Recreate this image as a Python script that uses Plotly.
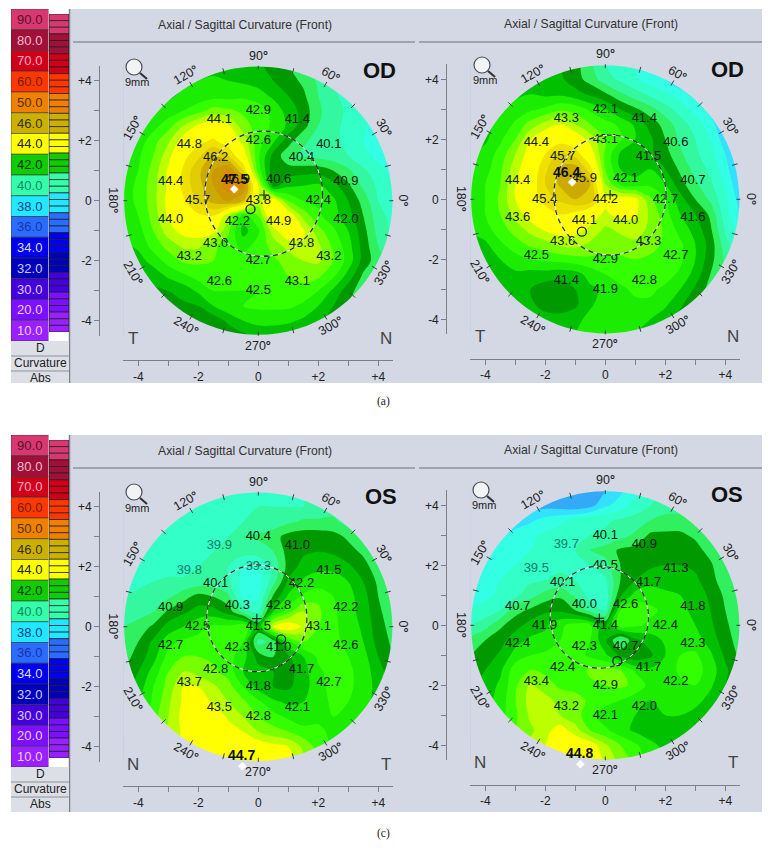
import math
import plotly.graph_objects as go

W, H = 772, 859
PANEL = "#d3d8e4"

# The outer grid lines sit just inside the plot square, so the mask hides the contour's edge.
grid_x = [-4.48,-4,-3.5,-3,-2.5,-2,-1.5,-1,-.5,0,.5,1,1.5,2,2.5,3,3.5,4,4.48]
grid_y = [4.48,4,3.5,3,2.5,2,1.5,1,.5,0,-.5,-1,-1.5,-2,-2.5,-3,-3.5,-4,-4.48]

map_a = [
[41.5,41.5,41.5,41.5,41.5,41.6,41.8,41.8,41.8,41.6,41.3,41.0,40.4,40.0,39.8,39.5,39.3,39.1,39.0],
[41.7,41.7,41.7,41.8,41.9,42.0,42.1,42.0,41.9,41.8,41.5,41.2,40.9,40.4,39.9,39.7,39.4,39.2,39.0],
[41.8,41.8,41.8,41.9,42.1,42.2,42.3,42.3,42.4,42.2,41.9,41.5,41.1,40.5,40.1,39.8,39.6,39.3,39.1],
[41.9,41.9,42.0,42.2,42.5,42.8,43.2,43.1,42.9,42.8,42.3,41.8,41.3,40.6,40.2,39.9,39.6,39.3,39.1],
[42.0,42.0,42.3,42.8,43.5,44.1,44.4,44.1,43.2,42.8,42.4,41.9,41.2,40.5,40.1,39.9,39.6,39.2,39.1],
[42.1,42.2,42.8,43.4,44.3,44.8,45.1,44.6,43.8,42.7,42.1,41.2,40.6,40.3,40.1,39.9,39.5,39.2,39.1],
[42.2,42.4,43.0,43.8,44.8,45.4,46.1,45.5,44.4,42.6,41.3,40.7,40.4,40.3,40.2,40.0,39.7,39.3,39.2],
[42.3,42.5,43.2,44.1,45.1,45.9,46.5,47.1,45.5,42.8,41.1,41.2,41.3,41.3,41.0,40.6,40.1,39.7,39.3],
[42.3,42.6,43.3,44.1,45.2,45.8,46.5,47.3,47.0,44.0,41.3,41.9,42.0,42.1,41.7,41.1,40.4,39.9,39.5],
[42.3,42.6,43.3,44.2,44.9,45.6,46.2,46.6,46.0,43.8,44.5,43.0,42.5,42.4,42.1,41.5,40.8,40.0,39.6],
[42.2,42.5,43.2,44.1,44.6,44.9,45.0,43.6,42.3,43.0,44.8,44.5,43.3,42.6,42.2,41.7,41.0,40.2,39.8],
[42.1,42.3,43.0,43.8,44.2,44.4,44.2,43.1,41.8,42.4,43.8,44.5,44.1,43.2,42.6,42.0,41.2,40.3,39.9],
[41.9,42.1,42.7,43.2,43.6,43.6,43.1,42.8,42.3,42.7,43.2,43.7,43.9,43.6,42.9,42.2,41.3,40.5,40.0],
[41.7,41.8,42.2,42.7,43.1,43.1,43.0,42.8,42.7,42.7,42.9,43.2,43.5,43.6,43.0,42.3,41.3,40.7,40.2],
[41.5,41.5,41.7,42.1,42.4,42.7,42.7,42.6,42.6,42.6,42.8,43.0,43.2,43.1,42.6,41.8,40.9,40.5,40.3],
[41.4,41.4,41.4,41.5,41.7,42.1,42.5,42.5,42.5,42.5,42.6,42.8,42.8,42.5,41.9,41.2,40.7,40.5,40.4],
[41.3,41.3,41.3,41.3,41.4,41.5,42.0,42.4,42.5,42.6,42.6,42.6,42.4,42.0,41.5,41.0,40.7,40.5,40.4],
[41.2,41.2,41.2,41.2,41.2,41.2,41.2,41.6,42.0,42.2,42.2,42.1,41.9,41.6,41.3,41.0,40.7,40.5,40.4],
[41.2,41.2,41.2,41.2,41.2,41.1,41.1,41.2,41.4,41.6,41.6,41.6,41.4,41.2,41.0,40.9,40.7,40.5,40.4],
]
map_b = [
[41.6,41.6,41.6,41.6,41.7,41.7,41.5,41.2,40.6,40.0,39.8,39.5,39.2,38.9,38.6,38.3,38.0,38.0,38.0],
[41.8,41.8,41.8,41.8,41.8,41.7,41.6,41.2,40.8,40.2,39.9,39.6,39.2,39.0,38.6,38.4,38.1,38.0,38.0],
[41.9,41.9,41.9,41.9,42.0,41.9,41.9,41.7,41.4,41.1,40.6,40.2,39.9,39.6,39.2,38.8,38.3,38.0,38.0],
[41.9,41.9,42.0,42.2,42.4,42.6,42.9,42.8,42.4,42.0,41.5,41.1,40.7,40.2,39.8,39.3,38.8,38.2,38.0],
[41.9,41.9,42.1,42.6,43.2,43.7,44.0,43.5,43.0,42.7,42.4,41.9,41.3,40.8,40.2,39.8,39.2,38.5,38.1],
[41.9,41.9,42.4,43.0,44.0,44.5,44.7,44.5,43.8,43.0,42.6,42.0,41.6,41.0,40.4,40.0,39.5,38.7,38.2],
[42.0,42.2,42.7,43.5,44.3,45.0,45.7,45.3,44.4,42.9,41.9,41.5,41.6,41.2,40.6,40.1,39.7,39.0,38.3],
[42.1,42.3,42.9,43.8,44.5,45.4,46.1,46.3,45.2,43.0,42.0,41.8,42.0,41.5,40.9,40.3,39.9,39.2,38.4],
[42.2,42.5,43.0,44.0,44.6,45.5,46.1,46.4,46.0,43.5,42.4,42.2,42.4,42.0,41.2,40.6,40.1,39.4,38.6],
[42.2,42.5,43.1,44.0,44.6,45.3,45.6,46.0,45.9,44.2,44.4,44.2,43.1,42.5,41.7,41.0,40.4,39.6,38.8],
[42.2,42.5,43.0,43.7,44.3,44.6,45.0,44.8,44.3,43.9,44.2,44.1,43.4,42.7,42.0,41.5,40.9,39.7,39.0],
[42.1,42.3,42.8,43.2,43.7,44.1,44.3,44.2,43.9,43.4,43.6,43.7,43.4,42.9,42.3,41.8,41.1,39.9,39.2],
[41.8,41.9,42.4,42.8,43.1,43.3,43.6,43.7,43.4,43.2,43.3,43.4,43.2,42.9,42.6,42.0,41.3,40.2,39.5],
[41.6,41.7,42.0,42.3,42.5,42.6,42.7,42.8,42.9,42.9,42.9,43.0,42.9,42.8,42.6,42.0,41.2,40.4,39.8],
[41.6,41.6,41.7,41.9,41.8,41.8,41.7,41.8,42.2,42.5,42.7,42.8,42.8,42.7,42.4,41.8,41.0,40.4,40.0],
[41.6,41.6,41.6,41.6,41.5,41.2,41.2,41.5,41.9,42.1,42.4,42.6,42.6,42.4,42.0,41.4,40.8,40.4,40.0],
[41.7,41.7,41.7,41.7,41.6,41.3,41.2,41.4,41.9,42.3,42.4,42.4,42.4,42.1,41.6,41.1,40.8,40.4,40.0],
[41.8,41.8,41.8,41.8,41.8,41.7,41.7,41.8,42.2,42.4,42.4,42.2,42.0,41.7,41.3,41.0,40.8,40.4,40.0],
[41.9,41.9,41.9,41.9,41.9,41.9,41.9,42.0,42.1,42.1,42.1,42.0,41.9,41.6,41.3,41.0,40.8,40.4,40.0],
]
map_c = [
[39.7,39.7,39.7,39.7,39.8,39.8,39.9,39.9,39.9,39.9,39.9,40.0,40.0,40.1,40.4,40.5,40.5,40.5,40.5],
[39.6,39.6,39.6,39.7,39.8,39.8,39.9,39.9,39.9,40.0,40.0,40.0,40.0,40.1,40.3,40.5,40.6,40.6,40.6],
[39.5,39.5,39.6,39.7,39.8,39.9,39.9,39.9,40.0,40.1,40.2,40.4,40.6,40.6,40.6,40.3,40.4,40.6,40.6],
[39.5,39.5,39.6,39.7,39.8,39.8,39.9,40.0,40.5,40.6,40.8,41.2,41.3,41.3,41.2,40.9,40.6,40.5,40.6],
[39.5,39.5,39.7,39.8,39.8,39.9,40.0,40.1,40.2,40.2,40.5,41.2,41.4,41.5,41.4,41.2,40.9,40.5,40.5],
[39.6,39.7,39.8,39.8,39.8,40.0,40.1,40.0,39.5,39.6,40.1,41.2,41.7,41.9,41.9,41.6,41.2,40.7,40.5],
[39.8,39.9,40.0,40.1,40.1,40.2,40.2,40.1,39.3,39.2,40.3,41.6,42.1,42.2,42.2,42.0,41.5,40.9,40.6],
[40.0,40.1,40.2,40.4,40.8,41.2,41.0,40.6,39.4,39.4,41.1,42.1,42.6,42.9,42.5,42.2,41.7,41.0,40.6],
[40.2,40.3,40.5,41.1,41.4,41.7,41.7,41.3,40.3,39.8,42.0,42.8,43.5,43.1,42.6,42.2,41.8,41.1,40.7],
[40.5,40.7,41.1,41.7,42.0,42.4,42.6,42.6,43.0,41.5,44.0,44.5,43.9,43.0,42.6,42.3,41.9,41.2,40.8],
[40.7,41.0,41.6,42.3,42.6,42.6,42.7,42.7,42.5,40.3,40.7,42.4,43.0,42.9,42.6,42.4,42.0,41.3,40.9],
[40.8,41.2,41.8,42.7,43.0,43.0,42.9,42.7,42.2,41.3,41.0,41.4,42.0,42.6,42.6,42.5,42.2,41.5,41.0],
[41.0,41.5,42.2,43.0,43.5,43.3,43.1,42.8,42.0,41.7,41.5,41.3,41.8,42.4,42.7,42.6,42.3,41.7,41.2],
[41.3,41.7,42.5,43.2,44.0,44.0,43.6,43.2,42.5,41.8,41.5,41.4,41.8,42.3,42.7,42.6,42.3,41.8,41.4],
[41.5,41.9,42.6,43.4,44.1,44.4,43.9,43.5,43.1,42.6,42.1,41.9,42.0,42.3,42.6,42.5,42.2,41.8,41.5],
[41.7,42.0,42.8,43.5,44.2,44.6,44.5,43.9,43.5,43.0,42.7,42.4,42.2,42.4,42.5,42.4,42.1,41.8,41.5],
[41.9,42.1,42.9,43.6,44.1,44.6,44.7,44.3,44.0,43.5,43.2,43.0,42.7,42.6,42.4,42.2,42.0,41.8,41.5],
[42.2,42.4,43.0,43.7,44.1,44.3,44.7,44.8,44.7,44.4,44.2,44.0,43.4,42.8,42.4,42.1,42.0,41.8,41.5],
[42.5,42.8,43.2,43.8,44.2,44.5,44.7,44.8,44.8,44.7,44.5,44.2,43.6,43.0,42.5,42.2,42.0,41.8,41.5],
]
map_d = [
[38.2,38.2,38.2,38.2,38.2,38.2,38.1,38.1,38.2,38.5,38.9,39.3,39.8,40.1,40.3,40.4,40.4,40.4,40.4],
[38.3,38.3,38.3,38.3,38.3,38.3,38.2,38.1,38.3,38.9,39.2,39.7,40.0,40.2,40.2,40.2,40.3,40.4,40.4],
[38.5,38.5,38.6,38.7,38.9,39.2,39.4,39.6,39.8,39.9,40.1,40.2,40.5,40.7,40.7,40.5,40.2,40.3,40.3],
[38.7,38.7,38.9,39.2,39.4,39.6,39.7,39.9,40.0,40.1,40.3,40.6,41.1,41.1,41.1,40.9,40.5,40.3,40.3],
[38.8,39.0,39.2,39.4,39.5,39.7,39.9,40.0,40.5,40.7,41.1,41.2,41.2,41.2,41.3,41.2,40.8,40.3,40.3],
[39.0,39.1,39.3,39.5,39.6,39.8,39.9,40.0,40.0,40.3,41.0,41.3,41.4,41.5,41.5,41.4,41.1,40.5,40.3],
[39.1,39.3,39.5,39.7,39.9,40.0,40.1,40.0,39.8,39.9,41.0,41.5,41.8,41.8,41.8,41.6,41.2,40.7,40.4],
[39.3,39.4,39.6,39.9,40.3,40.7,40.9,40.4,39.8,39.7,41.4,42.2,42.3,42.1,42.0,41.8,41.4,40.9,40.5],
[39.5,39.7,40.0,40.8,41.1,41.4,41.4,41.0,40.3,40.0,42.5,42.9,42.6,42.4,42.1,41.9,41.5,41.0,40.6],
[40.0,40.3,40.9,41.3,41.7,41.9,42.4,42.7,42.6,41.4,42.8,42.6,42.4,42.4,42.2,42.0,41.6,41.1,40.7],
[40.7,41.0,41.3,41.8,42.1,42.2,42.5,43.0,42.5,41.6,40.4,41.4,41.7,42.1,42.3,42.2,41.8,41.2,40.8],
[41.0,41.2,41.6,42.2,42.5,42.6,42.6,42.7,42.4,42.1,41.4,41.1,41.4,42.0,42.5,42.6,42.1,41.4,40.9],
[41.2,41.5,41.9,42.8,43.0,42.9,42.7,42.7,43.1,43.1,43.0,42.4,42.1,42.2,42.6,42.7,42.3,41.6,41.1],
[41.4,41.7,42.1,42.9,43.6,43.2,42.9,42.8,42.9,43.0,43.1,42.9,42.3,42.2,42.4,42.5,42.1,41.5,41.2],
[41.5,41.8,42.2,43.0,43.7,43.7,43.3,43.2,42.9,42.7,42.5,42.2,42.0,42.1,42.2,42.2,41.8,41.4,41.2],
[41.7,41.9,42.3,42.9,43.6,43.8,43.5,43.2,42.7,42.2,42.1,42.0,42.0,42.0,42.0,41.8,41.5,41.3,41.2],
[41.9,42.1,42.5,43.0,43.4,43.8,44.3,43.7,43.0,42.6,42.2,41.9,41.8,41.8,41.7,41.5,41.3,41.2,41.2],
[42.2,42.4,42.8,43.2,43.6,44.0,44.4,44.6,44.3,43.6,43.0,42.6,42.1,41.9,41.6,41.4,41.2,41.2,41.2],
[42.5,42.7,43.0,43.4,43.8,44.2,44.5,44.7,44.5,43.9,43.3,42.8,42.3,42.0,41.7,41.4,41.2,41.2,41.2],
]

label_x = [0,1.3,-1.3,0,-2.3,2.35,-1.42,1.44,-.7,.68,-2.92,2.92,-2.02,2,0,-2.92,2.92,-.7,.68,-1.42,1.44,0,-2.3,2.35,-1.3,1.3,0]
label_y = [3,2.7,2.7,2,1.87,1.87,1.42,1.42,.7,.7,.63,.63,0,0,0,-.63,-.63,-.7,-.7,-1.42,-1.42,-2,-1.87,-1.87,-2.7,-2.7,-3]

values_a = [42.9,41.4,44.1,42.6,44.8,40.1,46.2,40.4,46.9,40.6,44.4,40.9,45.7,42.4,43.8,44.0,42.0,42.2,44.9,43.0,43.8,42.7,43.2,43.2,42.6,43.1,42.5]
values_b = [42.1,41.4,43.3,43.1,44.4,40.6,45.7,41.5,45.9,42.1,44.4,40.7,45.4,42.7,44.2,43.6,41.6,44.1,44.0,43.6,43.3,42.9,42.5,42.7,41.4,42.8,41.9]
values_c = [40.4,41.0,39.9,39.3,39.8,41.5,40.1,42.2,40.3,42.8,40.9,42.2,42.5,43.1,41.5,42.7,42.6,42.3,41.0,42.8,41.7,41.8,43.7,42.7,43.5,42.1,42.8]
values_d = [40.1,40.9,39.7,40.5,39.5,41.3,40.1,41.7,40.0,42.6,40.7,41.8,41.9,42.4,41.4,42.4,42.3,42.3,40.7,42.4,41.7,42.9,43.4,42.2,43.2,42.0,42.1]

band_colors = ["#2f7fe8","#2f7fe8","#3399ee","#33aaf5","#33e0ff","#33ffe4","#33ffc8","#33f8a0",
               "#30f060","#009a00","#00c000","#1cec00","#33ff00","#77ff00","#bbff00","#ffff00",
               "#ffff00","#f0e000","#e0cc00","#ccaa00","#cc9a00","#dd8800","#dd8800","#dd8800"]

swatch_labels = ["90.0","80.0","70.0","60.0","50.0","46.0","44.0","42.0","40.0","38.0","36.0","34.0","32.0","30.0","20.0","10.0"]
swatch_colors = ["#d8386f","#a01038","#d00018","#ff3800","#f08000","#ccb000","#ffff00","#11cc00",
                 "#33ffaa","#22e8ff","#2a6cff","#0000ee","#0000bb","#4400dd","#7a10ff","#9920ff"]
swatch_text = ["#5a1030","#eebbcc","#ffaacc","#702000","#503000","#333300","#222200","#013300",
               "#118866","#0a4488","#1a33aa","#ddddff","#ccccff","#ddccff","#eeccff","#eeccff"]

panels = [
    dict(z=map_a, vals=values_a, cx=258.3, cy=200.7, eye="OD", left="T", right="N",
         ext=("47.5",-.78,.74), dia=(-.78,.41), ring=(.18,.23,1.96,2.09), o=(-.26,-.28), plus=(.19,.19),
         mag=(135,67), ey=(379,70)),
    dict(z=map_b, vals=values_b, cx=605.3, cy=199.3, eye="OD", left="T", right="N",
         ext=("46.4",-1.29,.92), dia=(-1.11,.58), ring=(.155,.14,1.87,2.0), o=(-.78,-1.08), plus=(.16,.15),
         mag=(483,65), ey=(727,69)),
    dict(z=map_c, vals=values_c, cx=258.3, cy=626.7, eye="OS", left="N", right="T",
         ext=("44.7",-.55,-4.28), dia=(-.53,-4.64), ring=(-.05,.28,1.67,1.78), o=(.76,-.42), plus=(-.05,.27),
         mag=(135,492), ey=(381,496)),
    dict(z=map_d, vals=values_d, cx=605.3, cy=625.3, eye="OS", left="N", right="T",
         ext=("44.8",-.87,-4.24), dia=(-.84,-4.62), ring=(-.2,.27,1.64,1.7), o=(.4,-1.19), plus=(-.2,.23),
         mag=(482,490), ey=(727,494)),
]

def px(x): return x / W
def py(y): return 1 - y / H

fig = go.Figure()
shapes, annos = [], []
layout = {}
R = 4.47
UNIT = 30.0  # pixels per millimetre on each map

def paper_rect(x0, y0, x1, y1, fill, line=None, layer="below", lw=1):
    shapes.append(dict(type="rect", xref="paper", yref="paper", x0=px(x0), x1=px(x1),
                       y0=py(y1), y1=py(y0), fillcolor=fill, layer=layer,
                       line=dict(color=line or fill, width=lw if line else 0)))

def paper_line(x0, y0, x1, y1, color, width=1, layer="below"):
    shapes.append(dict(type="line", xref="paper", yref="paper", x0=px(x0), x1=px(x1),
                       y0=py(y0), y1=py(y1), line=dict(color=color, width=width), layer=layer))

def paper_text(x, y, text, size, color="#222", bold=False, family="Liberation Sans", angle=0):
    annos.append(dict(xref="paper", yref="paper", x=px(x), y=py(y), text=f"<b>{text}</b>" if bold else text,
                      showarrow=False, xanchor="center", yanchor="middle", textangle=angle,
                      font=dict(size=size, color=color, family=family)))

# Grey panels, colour-bar cells, header rules, captions
for top, bot, rule, title_y, cap, cap_y in [(9, 383, 42, 25, "(a)", 401), (435, 812, 468, 451, "(c)", 833)]:
    paper_rect(70, top, 762, bot, PANEL)
    paper_line(69.5, top, 69.5, bot, "#7d818a", 1.5)
    paper_line(73, rule, 415, rule, "#8d929c", 1.5)
    paper_line(419, rule, 762, rule, "#8d929c", 1.5)
    paper_rect(11, top + 332, 69, bot, "#dcdfe6")
    paper_line(11, top + 347, 69, top + 347, "#8d929c")
    paper_line(11, top + 362, 69, top + 362, "#8d929c")
    paper_text(40, top + 338.5, "D", 12, "#222")
    paper_text(40, top + 354, "Curvature", 12, "#222")
    paper_text(40, top + 369, "Abs", 12, "#222")
    paper_text(244.5, title_y, "Axial / Sagittal Curvature (Front)", 12.2, "#333")
    paper_text(591, title_y - 1, "Axial / Sagittal Curvature (Front)", 12.2, "#333")
    paper_text(383, cap_y, cap, 11.5, "#222", family="Liberation Serif")

deg_labels = [(0,90),(30,60),(60,30),(90,0),(120,-30),(150,-60),(180,90),(210,60),(240,30),(270,0),(300,-30),(330,-60)]

ax = 1
for p in panels:
    xa, ya = f"xaxis{ax if ax > 1 else ''}", f"yaxis{ax if ax > 1 else ''}"
    xr, yr = f"x{ax if ax > 1 else ''}", f"y{ax if ax > 1 else ''}"
    cx, cy = p["cx"], p["cy"]
    tick_style = dict(range=[-4.5, 4.5], anchor="free", showgrid=False, zeroline=False, showline=True,
                      linecolor="#7c7f86", linewidth=1.2, ticks="outside", ticklen=5, tickcolor="#7c7f86",
                      tickvals=[-4,-3,-2,-1,0,1,2,3,4], ticktext=["-4","","-2","","0","","+2","","+4"],
                      tickfont=dict(size=12, color="#222", family="Liberation Sans"))
    layout[xa] = dict(domain=[px(cx - 135), px(cx + 135)], position=py(cy + 159.5), **tick_style)
    layout[ya] = dict(domain=[py(cy + 135), py(cy - 135)], position=px(cx - 159), **tick_style)
    fig.add_trace(go.Contour(
        x=grid_x, y=grid_y, z=p["z"], xaxis=xr, yaxis=yr, showscale=False, hoverinfo="skip",
        contours=dict(start=37, end=48, size=.5, coloring="fill", showlines=False),
        line=dict(width=0, smoothing=1),
        colorscale=[[i / (len(band_colors) - 1), c] for i, c in enumerate(band_colors)]))
    # mask outside the cornea
    k = .5523 * R
    mask = (f"M-4.5,-4.5 L4.5,-4.5 L4.5,4.5 L-4.5,4.5 Z "
            f"M{R},0 C{R},{k} {k},{R} 0,{R} C{-k},{R} {-R},{k} {-R},0 "
            f"C{-R},{-k} {-k},{-R} 0,{-R} C{k},{-R} {R},{-k} {R},0 Z")
    shapes.append(dict(type="path", xref=xr, yref=yr, path=mask, fillcolor=PANEL, fillrule="evenodd",
                       line=dict(width=0), layer="above"))
    # ticks on the rim
    seg = ""
    for d in range(0, 360, 15):
        a = math.radians(d)
        seg += f"M{(R-.1)*math.cos(a):.3f},{(R-.1)*math.sin(a):.3f} L{(R+.1)*math.cos(a):.3f},{(R+.1)*math.sin(a):.3f} "
    shapes.append(dict(type="path", xref=xr, yref=yr, path=seg, line=dict(color="#3a3d42", width=1), layer="above"))
    # dashed ring
    rx0, ry0, rrx, rry = p["ring"]
    for col, dash, w in [("#f4f4f4", "solid", 1), ("#1d2a1d", "5px,4px", 1.2)]:
        shapes.append(dict(type="circle", xref=xr, yref=yr, x0=rx0 - rrx, x1=rx0 + rrx, y0=ry0 - rry, y1=ry0 + rry,
                           line=dict(color=col, width=w, dash=dash), layer="above"))
    # values
    fig.add_trace(go.Scatter(
        x=label_x, y=label_y, xaxis=xr, yaxis=yr, mode="text", hoverinfo="skip", showlegend=False,
        text=[f"{v:.1f}" for v in p["vals"]], cliponaxis=False,
        textfont=dict(size=13, family="Liberation Sans", color=["#0e8068" if v < 40 else "#0d1a0d" for v in p["vals"]])))
    # pupil centre and marker
    ox, oy = p["o"]; plx, ply = p["plus"]
    fig.add_trace(go.Scatter(x=[ox], y=[oy], xaxis=xr, yaxis=yr, mode="markers", hoverinfo="skip", showlegend=False,
                             marker=dict(symbol="circle-open", size=9, color="#112233", line=dict(width=1.3, color="#112233"))))
    fig.add_trace(go.Scatter(x=[plx], y=[ply], xaxis=xr, yaxis=yr, mode="markers", hoverinfo="skip", showlegend=False,
                             marker=dict(symbol="cross-thin-open", size=7, color="#112233", line=dict(width=1.1, color="#112233"))))
    et, ex, ey = p["ext"]
    paper_text(cx + UNIT * ex, cy - UNIT * ey, et, 14, "#0b0f0b", bold=True)
    dx, dy = p["dia"]
    paper_text(cx + UNIT * dx, cy - UNIT * dy, "◆", 11, "#ffffff", family="DejaVu Sans")
    # degree labels (paper-referenced, since some lie outside the axis ranges)
    for d, ang in deg_labels:
        a = math.radians(d)
        paper_text(cx + UNIT * 4.83 * math.cos(a), cy - UNIT * 4.83 * math.sin(a), f"{d}<b>°</b>", 12.5, "#222", angle=ang)
    # side and eye letters
    paper_text(cx - 125.3, cy + 137.5, p["left"], 17, "#444")
    paper_text(cx + 127.7, cy + 137.5, p["right"], 17, "#444")
    paper_text(p["ey"][0], p["ey"][1], p["eye"], 22, "#111", bold=True)
    # magnifier
    mx, my = p["mag"]
    shapes.append(dict(type="circle", xref="paper", yref="paper", x0=px(mx - 9), x1=px(mx + 7),
                       y0=py(my + 8), y1=py(my - 8), fillcolor="#f2f3f5", line=dict(color="#4a4d52", width=1.2), layer="above"))
    paper_line(mx + 5, my + 6, mx + 12, my + 12, "#333", 2.2, "above")
    paper_text(mx + 2, my + 15.5, "9mm", 11, "#222")
    ax += 1

# Colour bars
for top in (9, 435):
    xs, ys = f"x{ax}", f"y{ax}"
    layout[f"xaxis{ax}"] = dict(domain=[px(11), px(48.5)], range=[0, 1], visible=False, fixedrange=True, anchor=ys)
    layout[f"yaxis{ax}"] = dict(domain=[py(top + 332), py(top)], range=[15.5, -.5], visible=False, anchor=xs)
    fig.add_trace(go.Bar(y=list(range(16)), x=[1] * 16, orientation="h", width=1, xaxis=xs, yaxis=ys,
                         marker=dict(color=swatch_colors, line=dict(width=.6, color="#333")),
                         text=swatch_labels, textposition="inside", insidetextanchor="middle", textangle=0,
                         constraintext="none", hoverinfo="skip", showlegend=False,
                         textfont=dict(size=13, color=swatch_text, family="Liberation Sans")))
    ax += 1
    xs, ys = f"x{ax}", f"y{ax}"
    strip = [c for c in swatch_colors for _ in range(3)]
    layout[f"xaxis{ax}"] = dict(domain=[px(49), px(69)], range=[0, 1], visible=False, anchor=ys)
    layout[f"yaxis{ax}"] = dict(domain=[py(top + 323), py(top + 5)], range=[len(strip) - .5, -.5], visible=False, anchor=xs)
    fig.add_trace(go.Bar(y=list(range(len(strip))), x=[1] * len(strip), orientation="h", width=1, xaxis=xs, yaxis=ys,
                         marker=dict(color=strip, line=dict(width=.7, color="#1a1a1a")), hoverinfo="skip", showlegend=False))
    ax += 1

fig.update_layout(width=W, height=H, margin=dict(l=0, r=0, t=0, b=0), paper_bgcolor="white",
                  plot_bgcolor="rgba(0,0,0,0)", showlegend=False, shapes=shapes, annotations=annos,
                  font=dict(family="Liberation Sans"), **layout)
fig.write_html("out.html", config={"displayModeBar": False},
               post_script="document.body.style.margin='0';")
